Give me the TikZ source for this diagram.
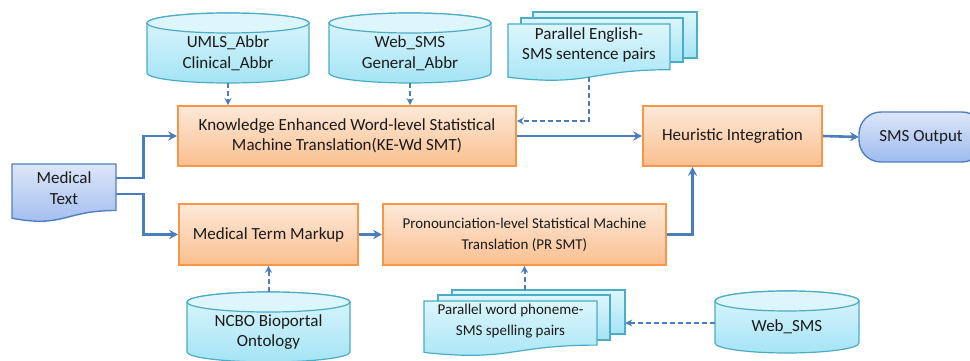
\documentclass[tikz,border=0pt]{standalone}
\usepackage{fontspec}
\setmainfont{Carlito}
\usetikzlibrary{arrows.meta,calc}
\definecolor{obord}{HTML}{F79646}
\definecolor{otop}{HTML}{FDE9D9}
\definecolor{obot}{HTML}{FABF8F}
\definecolor{cbord}{HTML}{4BACC6}
\definecolor{ctop}{HTML}{DDF6FC}
\definecolor{cbot}{HTML}{A5E4F5}
\definecolor{bbord}{HTML}{4F81BD}
\definecolor{btop}{HTML}{DCE6F8}
\definecolor{bbot}{HTML}{9EBAEF}
\definecolor{arr}{HTML}{4A7EBB}
\definecolor{txt}{HTML}{1A1A1A}
\newcommand\drum[7]{%
  \path[draw=cbord, line width=1.2pt, top color=ctop, bottom color=cbot]
    (#2-#4, #3+#6) arc[start angle=180,end angle=360,x radius=#4,y radius=#6]
    -- (#2+#4, #5-#6) arc[start angle=0,end angle=180,x radius=#4,y radius=#6] -- cycle;
  \draw[cbord, line width=1.2pt, fill=ctop] (#2, #3+#6) ellipse[x radius=#4, y radius=#6];
  \node[txtnode, minimum width=2*#4, minimum height=#5-#3-#6] (#1) at (#2, {(#3+#6+#5)/2}) {#7};
}
\begin{document}
\begin{tikzpicture}[x=1pt,y=-1pt,
  txtnode/.style={inner sep=0, align=center, text=txt, font=\fontsize{17}{20.5}\selectfont},
  smalltxt/.style={font=\fontsize{15}{21}\selectfont},
  procbox/.style={txtnode, draw=obord, line width=1.6pt, top color=otop, bottom color=obot, minimum height=60},
  flow/.style={draw=arr, line width=2.6pt, -{Stealth[length=9pt,width=9pt]}},
  dflow/.style={draw=arr, line width=2pt, dash pattern=on 5pt off 3pt, -{Stealth[length=7pt,width=7pt]}},
  docshape/.style={draw=cbord, line width=1.2pt, top color=ctop, bottom color=cbot},
]
\useasboundingbox (0,0) rectangle (970,361);
\clip (0,0) rectangle (970,361);

% cylinders
\drum{umls}{228}{13}{81}{83}{10}{UMLS\_Abbr\\Clinical\_Abbr}
\drum{websms}{410}{13}{81}{83}{10}{Web\_SMS\\General\_Abbr}
\drum{ncbo}{268.5}{292}{81.5}{362}{10}{NCBO Bioportal\\Ontology}
\drum{webs2}{787}{291}{72}{353}{10}{Web\_SMS}

% process boxes
\node[procbox, minimum width=338] (ke) at (347,136) {Knowledge Enhanced Word-level Statistical\\Machine Translation(KE-Wd SMT)};
\node[procbox, minimum width=179] (hi) at (732.5,136) {Heuristic Integration};
\node[procbox, minimum width=179, minimum height=61] (mtm) at (268.5,234.5) {Medical Term Markup};
\node[procbox, smalltxt, minimum width=283, minimum height=61] (pr) at (524.5,234.5) {Pronounciation-level Statistical Machine\\Translation (PR SMT)};

% medical text document
\path[draw=bbord, line width=1.4pt, top color=btop, bottom color=bbot]
  (12,164) -- (116,164) -- (116,210.5) .. controls (64,210.5) and (64,228.2) .. (12,218.2) -- cycle;
\node[txtnode, minimum width=104, minimum height=48] (mt) at (64,188) {Medical\\Text};

% SMS output
\path[draw=bbord, line width=1.4pt, top color=btop, bottom color=bbot, rounded corners=22]
  (859,112) rectangle (984,162);
\node[txtnode] (out) at (921,137) {SMS Output};
\coordinate (outw) at (859,137);

% parallel English stack
\path[docshape] (533,12) rectangle (697,58);
\path[docshape] (521,18) rectangle (683,62);
\path[docshape] (508,24) -- (670,24) -- (670,69.7) .. controls (589,69.7) and (589,87.1) .. (508,77.2) -- cycle;
\node[txtnode, minimum width=162, minimum height=44] (pe) at (589,45) {Parallel English-\\SMS sentence pairs};

% parallel word stack
\path[docshape] (452,290) rectangle (625,334);
\node[inner sep=0, minimum width=173, minimum height=44] (pwback) at (538.5,312) {};
\path[docshape] (438,295) rectangle (610,340);
\path[docshape] (424,301) -- (597,301) -- (597,345.1) .. controls (510.5,345.1) and (510.5,361.9) .. (424,352.4) -- cycle;
\node[txtnode, smalltxt, minimum width=173, minimum height=42] (pwp) at (510.5,321) {Parallel word phoneme-\\SMS spelling pairs};

% connectors
\coordinate (mta) at ($(mt.east)+(0,-10)$);
\coordinate (mtb) at ($(mt.east)+(0,6)$);
\coordinate (w2in) at ($(webs2.west)+(0,-4)$);
\coordinate (hiin) at ($(hi.south)+(-40,0)$);
\coordinate (kein) at ($(ke.east)+(0,-15)$);
\coordinate (ncbout) at ($(ncbo.north)+(0,-10)$);
\coordinate (peout) at ($(pe.south)+(0,10)$);
\draw[flow] (mta) -- ++(27,0) |- (ke.west);
\draw[flow] (mtb) -- ++(27,0) |- (mtm.west);
\draw[flow] (mtm.east) -- (pr.west);
\draw[flow] (ke.east) -- (hi.west);
\draw[flow] (pr.east) -| (hiin);
\draw[flow] (hi.east) -- (outw);
\draw[dflow] (umls.south) -- (umls.south |- ke.north);
\draw[dflow] (websms.south) -- (websms.south |- ke.north);
\draw[dflow] (peout) |- (kein);
\draw[dflow] (ncbout) -- (mtm.south);
\draw[dflow] (pr.south |- pwback.north) -- (pr.south);
\draw[dflow] (w2in) -- (w2in -| pwback.east);
\end{tikzpicture}
\end{document}
